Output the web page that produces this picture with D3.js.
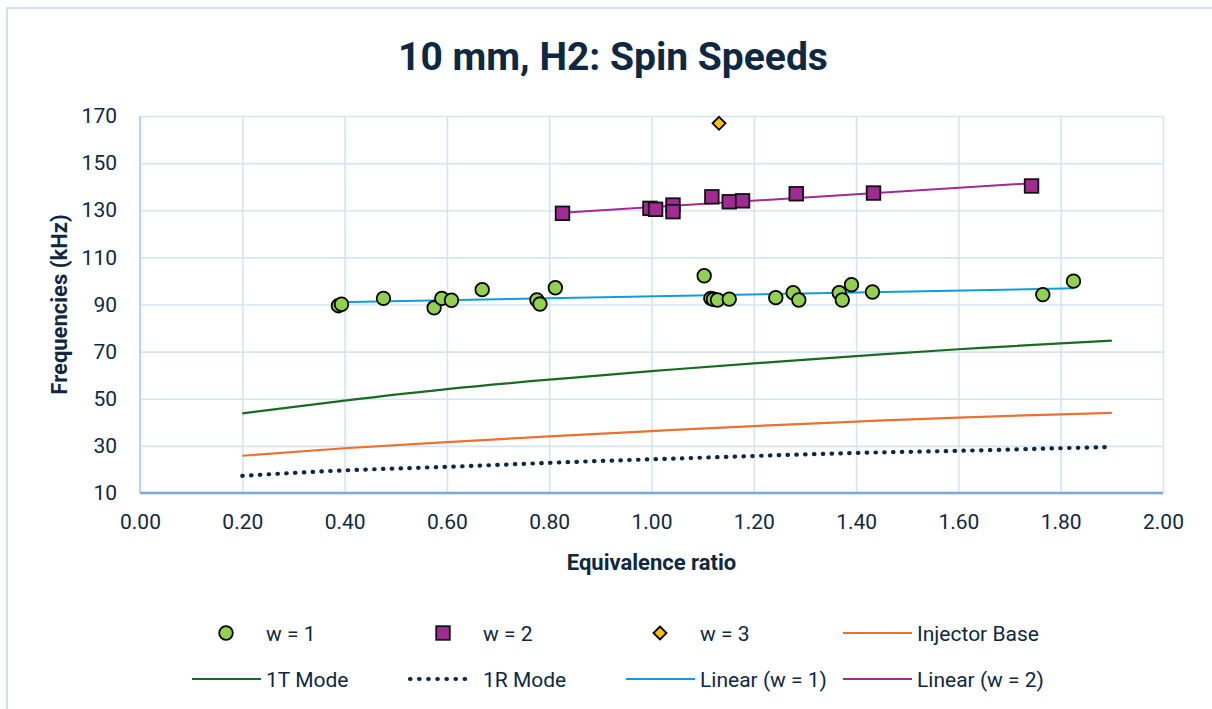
<!DOCTYPE html>
<html>
<head>
<meta charset="utf-8">
<script src="https://cdn.jsdelivr.net/npm/d3@7"></script>
<style>
  html, body { margin: 0; padding: 0; background: #fff; }
  svg { display: block; }
  text { font-family: Roboto, "Noto Sans", sans-serif; fill: #0E2841; }
</style>
</head>
<body>
<svg id="chart" width="1212" height="709"></svg>
<script>
// ---------- data ----------
const title = "10 mm, H2: Spin Speeds";
const xTitle = "Equivalence ratio";
const yTitle = "Frequencies (kHz)";
const xTicks = [0, 0.2, 0.4, 0.6, 0.8, 1.0, 1.2, 1.4, 1.6, 1.8, 2.0];
const yTicks = [10, 30, 50, 70, 90, 110, 130, 150, 170];

const w1X = [0.388, 0.394, 0.476, 0.575, 0.590, 0.609, 0.669, 0.776, 0.782, 0.812,
             1.103, 1.116, 1.121, 1.129, 1.152, 1.243, 1.277, 1.288, 1.367, 1.373,
             1.391, 1.432, 1.765, 1.825];
const w1Y = [89.5, 90.1, 92.6, 88.6, 92.6, 91.8, 96.3, 91.9, 90.2, 97.1,
             102.2, 92.6, 92.2, 91.9, 92.3, 92.9, 95.0, 91.9, 95.0, 91.9,
             98.4, 95.3, 94.2, 99.9];

const w2X = [0.826, 0.997, 1.008, 1.042, 1.042, 1.118, 1.152, 1.178, 1.283, 1.434, 1.743];
const w2Y = [128.7, 130.8, 130.4, 132.2, 129.4, 135.7, 133.6, 134.0, 137.0, 137.3, 140.3];

const w3X = [1.132];
const w3Y = [166.9];

const modeX      = [0.2, 0.4, 0.6, 0.8, 1.0, 1.2, 1.4, 1.6, 1.8, 1.9];
const injectorY  = [25.8, 29.0, 31.6, 34.0, 36.3, 38.4, 40.3, 42.0, 43.4, 44.0];
const mode1TY    = [43.8, 49.2, 54.1, 58.1, 61.7, 65.0, 68.1, 71.0, 73.5, 74.7];
const mode1RY    = [17.3, 19.6, 21.1, 22.8, 24.3, 25.7, 27.0, 27.9, 29.0, 29.5];

const legendRow1 = ["w = 1", "w = 2", "w = 3", "Injector Base"];
const legendRow2 = ["1T Mode", "1R Mode", "Linear (w = 1)", "Linear (w = 2)"];

// ---------- styles ----------
const C = {
  text: "#0E2841",
  grid: "#D6E4F4",
  axisY: "#BCD3EE",
  axisX: "#7EA8DA",
  w1: "#92D050",
  w2: "#A02B93",
  w3: "#FFC000",
  inj: "#E97132",
  t1: "#196B24",
  r1: "#0E2841",
  lin1: "#0F9ED5",
  lin2: "#A02B93"
};

const svg = d3.select("#chart");
const W = 1212, H = 709;
const pL = 140, pR = 1163, pT = 116, pB = 493;

const x = d3.scaleLinear().domain([0, 2]).range([pL, pR]);
const y = d3.scaleLinear().domain([10, 170]).range([pB, pT]);

// chart border
svg.append("rect").attr("x", 7).attr("y", 8).attr("width", W + 10).attr("height", H + 10)
  .attr("fill", "#fff").attr("stroke", "#CFE0F3").attr("stroke-width", 2);

// title
svg.append("text").attr("x", 613).attr("y", 70).attr("text-anchor", "middle")
  .style("font-size", "39px").style("font-weight", "700").text(title);

// gridlines
const gx = svg.append("g").attr("transform", `translate(0,${pB})`)
  .call(d3.axisBottom(x).tickValues(xTicks).tickSize(-(pB - pT)).tickFormat(""));
gx.select(".domain").remove();
gx.selectAll("line").attr("stroke", C.grid).attr("stroke-width", 1.6);

const gy = svg.append("g").attr("transform", `translate(${pL},0)`)
  .call(d3.axisLeft(y).tickValues(yTicks).tickSize(-(pR - pL)).tickFormat(""));
gy.select(".domain").remove();
gy.selectAll("line").attr("stroke", C.grid).attr("stroke-width", 1.6);

// axes lines
svg.append("line").attr("x1", x(0)).attr("x2", x(0)).attr("y1", y(170)).attr("y2", y(10))
  .attr("stroke", C.axisY).attr("stroke-width", 2);
svg.append("line").attr("x1", x(0)).attr("x2", x(2)).attr("y1", y(10)).attr("y2", y(10))
  .attr("stroke", C.axisX).attr("stroke-width", 2.5);

// tick labels
const ax = svg.append("g").attr("transform", `translate(0,${pB})`)
  .call(d3.axisBottom(x).tickValues(xTicks).tickSize(0).tickPadding(21).tickFormat(d3.format(".2f")));
ax.select(".domain").remove();
ax.selectAll("text").style("font-size", "21px").style("font-family", "Roboto, sans-serif").attr("fill", C.text);

const ay = svg.append("g").attr("transform", `translate(${pL},0)`)
  .call(d3.axisLeft(y).tickValues(yTicks).tickSize(0).tickPadding(23).tickFormat(d3.format("d")));
ay.select(".domain").remove();
ay.selectAll("text").style("font-size", "21px").style("font-family", "Roboto, sans-serif").attr("fill", C.text);

// axis titles
svg.append("text").attr("x", (pL + pR) / 2).attr("y", 570).attr("text-anchor", "middle")
  .style("font-size", "22px").style("font-weight", "700").text(xTitle);
svg.append("text").attr("transform", `translate(67,${(pT + pB) / 2}) rotate(-90)`)
  .attr("text-anchor", "middle").style("font-size", "22px").style("font-weight", "700").text(yTitle);

// theory lines
const lineGen = d3.line().x(d => x(d[0])).y(d => y(d[1])).curve(d3.curveNatural);
const zip = (xs, ys) => xs.map((v, i) => [v, ys[i]]);

svg.append("path").datum(zip(modeX, mode1TY)).attr("d", lineGen)
  .attr("fill", "none").attr("stroke", C.t1).attr("stroke-width", 2.2);
svg.append("path").datum(zip(modeX, injectorY)).attr("d", lineGen)
  .attr("fill", "none").attr("stroke", C.inj).attr("stroke-width", 2.2);
svg.append("path").datum(zip(modeX, mode1RY)).attr("d", lineGen)
  .attr("fill", "none").attr("stroke", C.r1).attr("stroke-width", 4.2)
  .attr("stroke-linecap", "round").attr("stroke-dasharray", "0.5 8.3");

// linear trendlines
function trend(xs, ys) {
  const n = xs.length, mx = d3.mean(xs), my = d3.mean(ys);
  let sxy = 0, sxx = 0;
  for (let i = 0; i < n; i++) { sxy += (xs[i] - mx) * (ys[i] - my); sxx += (xs[i] - mx) ** 2; }
  const b = sxy / sxx, a = my - b * mx;
  const x0 = d3.min(xs), x1 = d3.max(xs);
  return [[x0, a + b * x0], [x1, a + b * x1]];
}
const straight = d3.line().x(d => x(d[0])).y(d => y(d[1]));
svg.append("path").datum(trend(w1X, w1Y)).attr("d", straight)
  .attr("fill", "none").attr("stroke", C.lin1).attr("stroke-width", 2);
svg.append("path").datum(trend(w2X, w2Y)).attr("d", straight)
  .attr("fill", "none").attr("stroke", C.lin2).attr("stroke-width", 2);

// markers
function circle(g, cx, cy) {
  g.append("circle").attr("cx", cx).attr("cy", cy).attr("r", 6.8)
    .attr("fill", C.w1).attr("stroke", "#000").attr("stroke-width", 1.8);
}
function square(g, cx, cy) {
  g.append("rect").attr("x", cx - 6.8).attr("y", cy - 6.8).attr("width", 13.6).attr("height", 13.6)
    .attr("fill", C.w2).attr("stroke", "#111").attr("stroke-width", 1.8);
}
function diamond(g, cx, cy) {
  const s = 6.5;
  g.append("path").attr("d", `M${cx},${cy - s}L${cx + s},${cy}L${cx},${cy + s}L${cx - s},${cy}Z`)
    .attr("fill", C.w3).attr("stroke", "#000").attr("stroke-width", 1.8);
}
const pts = svg.append("g");
w1X.forEach((v, i) => circle(pts, x(v), y(w1Y[i])));
w2X.forEach((v, i) => square(pts, x(v), y(w2Y[i])));
w3X.forEach((v, i) => diamond(pts, x(v), y(w3Y[i])));

// legend
const colX = i => 192 + 217 * i;
const leg = svg.append("g");
const rowY = [633, 679];
// row 1
circle(leg, colX(0) + 34, rowY[0]);
square(leg, colX(1) + 34, rowY[0]);
diamond(leg, colX(2) + 34, rowY[0]);
leg.append("line").attr("x1", colX(3)).attr("x2", colX(3) + 69).attr("y1", rowY[0]).attr("y2", rowY[0])
  .attr("stroke", C.inj).attr("stroke-width", 2.2);
// row 2
leg.append("line").attr("x1", colX(0)).attr("x2", colX(0) + 69).attr("y1", rowY[1]).attr("y2", rowY[1])
  .attr("stroke", C.t1).attr("stroke-width", 2.2);
leg.append("line").attr("x1", colX(1) + 1).attr("x2", colX(1) + 60).attr("y1", rowY[1]).attr("y2", rowY[1])
  .attr("stroke", C.r1).attr("stroke-width", 4.2).attr("stroke-linecap", "round").attr("stroke-dasharray", "0.5 8.6");
leg.append("line").attr("x1", colX(2)).attr("x2", colX(2) + 69).attr("y1", rowY[1]).attr("y2", rowY[1])
  .attr("stroke", C.lin1).attr("stroke-width", 2.2);
leg.append("line").attr("x1", colX(3)).attr("x2", colX(3) + 69).attr("y1", rowY[1]).attr("y2", rowY[1])
  .attr("stroke", C.lin2).attr("stroke-width", 2.2);

[legendRow1, legendRow2].forEach((row, r) => {
  row.forEach((label, i) => {
    leg.append("text").attr("x", colX(i) + 74).attr("y", rowY[r]).attr("dy", "0.36em")
      .style("font-size", "21px").text(label);
  });
});
</script>
</body>
</html>
